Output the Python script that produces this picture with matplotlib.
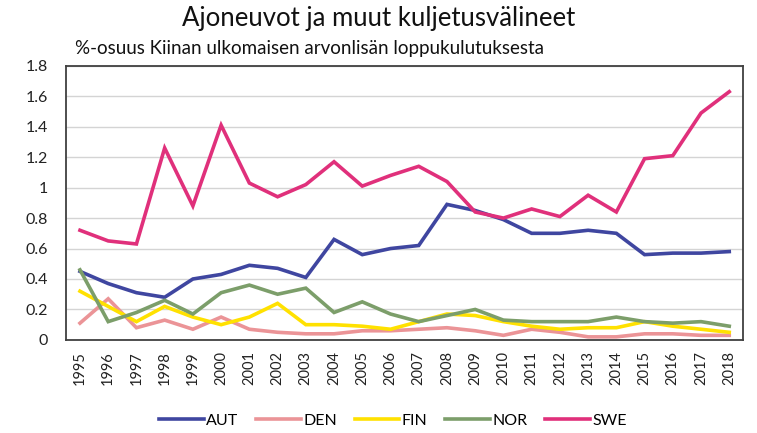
import numpy as np
import matplotlib.pyplot as plt

plt.rcParams['font.family'] = ['Lato', 'DejaVu Sans']

# Data
years = list(range(1995, 2019))
aut = [0.45, 0.37, 0.31, 0.28, 0.40, 0.43, 0.49, 0.47, 0.41, 0.66, 0.56, 0.60,
       0.62, 0.89, 0.85, 0.79, 0.70, 0.70, 0.72, 0.70, 0.56, 0.57, 0.57, 0.58]
den = [0.11, 0.27, 0.08, 0.13, 0.07, 0.15, 0.07, 0.05, 0.04, 0.04, 0.06, 0.06,
       0.07, 0.08, 0.06, 0.03, 0.07, 0.05, 0.02, 0.02, 0.04, 0.04, 0.03, 0.03]
fin = [0.32, 0.22, 0.12, 0.22, 0.15, 0.10, 0.15, 0.24, 0.10, 0.10, 0.09, 0.07,
       0.12, 0.17, 0.16, 0.12, 0.09, 0.07, 0.08, 0.08, 0.12, 0.09, 0.07, 0.05]
nor = [0.46, 0.12, 0.18, 0.26, 0.17, 0.31, 0.36, 0.30, 0.34, 0.18, 0.25, 0.17,
       0.12, 0.16, 0.20, 0.13, 0.12, 0.12, 0.12, 0.15, 0.12, 0.11, 0.12, 0.09]
swe = [0.72, 0.65, 0.63, 1.26, 0.88, 1.41, 1.03, 0.94, 1.02, 1.17, 1.01, 1.08,
       1.14, 1.04, 0.84, 0.80, 0.86, 0.81, 0.95, 0.84, 1.19, 1.21, 1.49, 1.63]

series = [('AUT', aut, '#3f46a0'), ('DEN', den, '#eb9497'), ('FIN', fin, '#ffe100'),
          ('NOR', nor, '#7c9e6a'), ('SWE', swe, '#e0307b')]

fig = plt.figure(figsize=(7.57, 4.33), dpi=100)
ax = fig.add_axes([0.087, 0.215, 0.895, 0.633])

for name, vals, col in series:
    ax.plot(years, vals, color=col, lw=2.6, label=name, solid_joinstyle='miter')

ax.set_xlim(1994.5, 2018.5)
ax.set_ylim(0, 1.8)
ax.set_yticks(np.arange(0, 1.81, 0.2))
ax.set_yticklabels(['0', '0.2', '0.4', '0.6', '0.8', '1', '1.2', '1.4', '1.6', '1.8'])
ax.set_xticks(years)
ax.set_xticklabels([str(y) for y in years], rotation=90)
ax.tick_params(length=0, labelsize=10.5, colors='#222222')
ax.tick_params(axis='x', pad=8)
ax.tick_params(axis='y', pad=13, labelsize=11.5)
ax.grid(axis='y', color='#d4d4d4', lw=1)
ax.set_axisbelow(True)
for s in ax.spines.values():
    s.set_color('#404040')
    s.set_linewidth(1.3)

fig.text(0.5, 0.957, 'Ajoneuvot ja muut kuljetusvälineet', ha='center', va='center',
         fontsize=18.5, color='#111111')
fig.text(0.099, 0.888, '%-osuus Kiinan ulkomaisen arvonlisän loppukulutuksesta',
         ha='left', va='center', fontsize=13.5, color='#111111')

fig.legend(loc='center', bbox_to_anchor=(0.519, 0.028), ncol=5, frameon=False,
           fontsize=11.5, handlelength=2.8, handletextpad=0.15, columnspacing=1.1)

fig.savefig('out.png', dpi=100)
